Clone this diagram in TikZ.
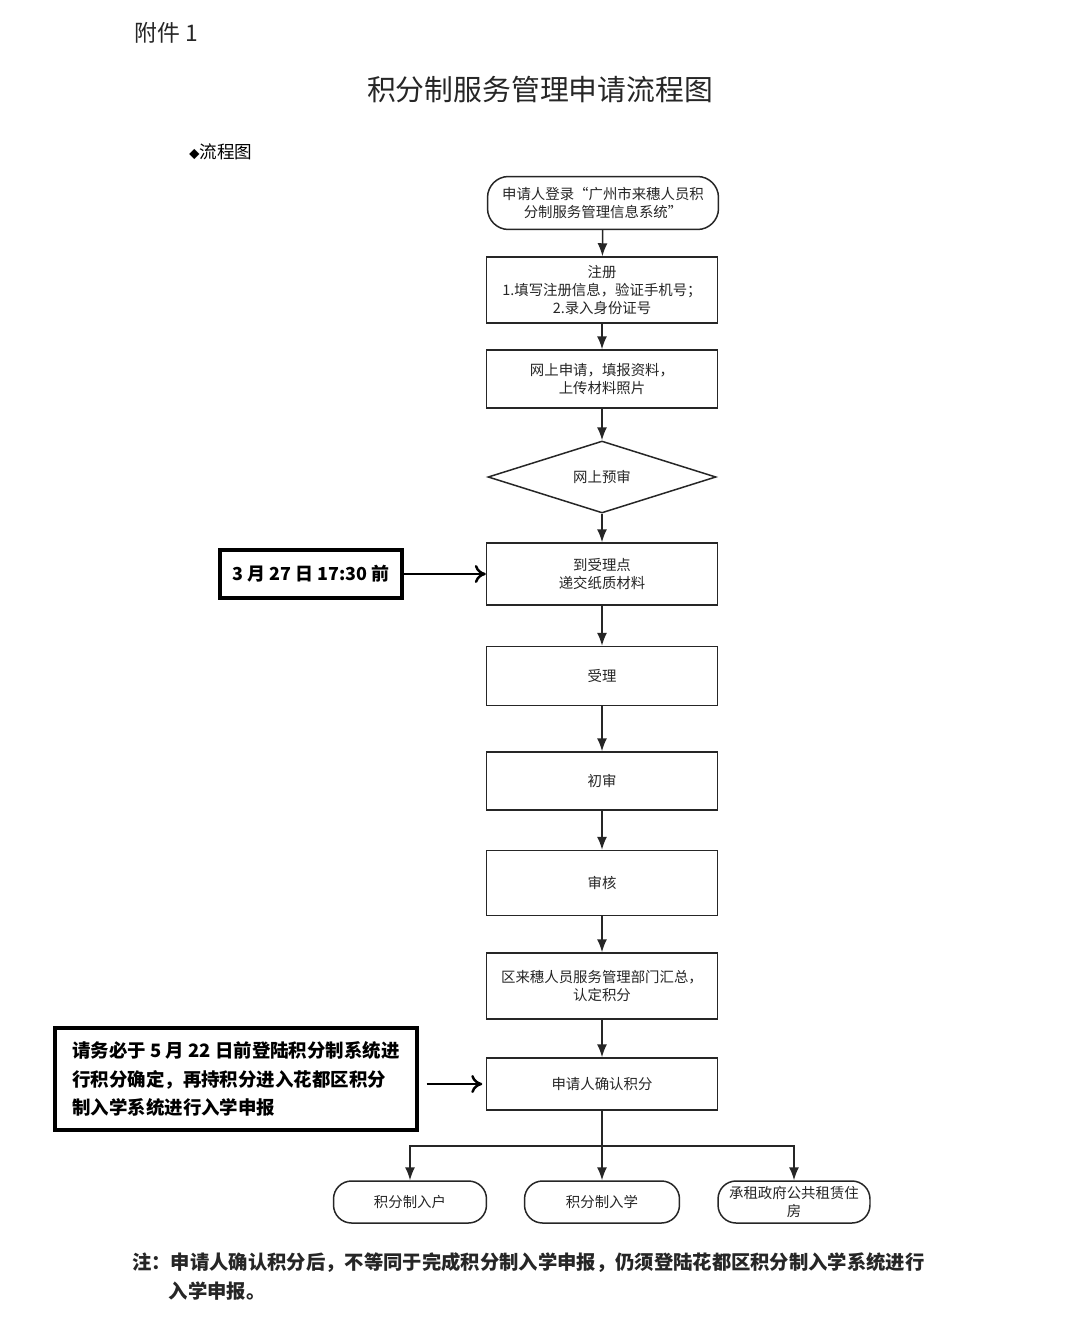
\documentclass[tikz,border=0pt]{standalone}
\usepackage{fontspec}
\setmainfont{Noto Sans CJK SC}
\usepackage{tikz}
\usetikzlibrary{arrows.meta,positioning,calc,shapes.geometric}
\colorlet{InkBlack}{black!85}

\begin{document}
\begin{tikzpicture}[x=0.02cm,y=-0.02cm,
      stepbox/.style={draw=InkBlack,line width=0.85pt,minimum width=4.62cm,
        align=center,inner sep=0.1cm,font=\fontsize{8.2}{10.2}\selectfont,text=InkBlack},
      pill/.style={stepbox,rounded corners=0.42cm},
      check/.style={diamond,draw=InkBlack,line width=0.85pt,minimum width=4.56cm,
        minimum height=1.44cm,aspect=3.17,inner sep=0pt,
        font=\fontsize{8.2}{10.2}\selectfont,text=InkBlack},
      memo/.style={draw=black,line width=2.3pt,align=left,inner sep=0.2cm,
        font=\fontsize{10.5}{16}\selectfont\bfseries},
      flow/.style={-{Latex[length=2.6mm,width=2mm]},InkBlack,line width=0.85pt},
      hint/.style={-{To[length=2.2mm,width=3.6mm]},black,line width=1.4pt}
    ]
    \useasboundingbox (0,0) rectangle (1080,1318);
    \fill[white] (0,0) rectangle (1080,1318);

    % En-tête : annexe, titre et rubrique
    \node[anchor=west,font=\fontsize{13}{15}\selectfont,text=InkBlack] (annex) at (128,33) {附件 1};
    \node[font=\fontsize{16.4}{19}\selectfont,text=InkBlack] (title) at (540,90) {积分制服务管理申请流程图};
    \node[anchor=west,font=\fontsize{10}{12}\selectfont] (rubric) at (183,152) {\fontsize{6}{8}\selectfont◆\fontsize{10}{12}\selectfont 流程图};

    % Chaîne principale des étapes
    \node[pill,minimum height=1.06cm] (login) at (603,203)
      {申请人登录“广州市来穗人员积\\分制服务管理信息系统”};
    \node[stepbox,minimum height=1.32cm] (register) at (602,290)
      {注册\\1.填写注册信息，验证手机号；\\2.录入身份证号};
    \node[stepbox,minimum height=1.16cm] (apply) at (602,379)
      {网上申请，填报资料，\\上传材料照片};
    \node[check] (precheck) at (602,477) {网上预审};
    \node[stepbox,minimum height=1.24cm] (submit) at (602,574)
      {到受理点\\递交纸质材料};
    \node[stepbox,minimum height=1.18cm] (accept) at (602,676) {受理};
    \node[stepbox,minimum height=1.16cm] (first) at (602,781) {初审};
    \node[stepbox,minimum height=1.30cm] (review) at (602,883) {审核};
    \node[stepbox,minimum height=1.32cm] (summary) at (602,986)
      {区来穗人员服务管理部门汇总，\\认定积分};
    \node[stepbox,minimum height=1.04cm] (confirm) at (602,1084) {申请人确认积分};

    % Trois débouchés
    \node[pill,minimum width=3.06cm,minimum height=0.84cm,rounded corners=0.36cm] (hukou) at (410,1202) {积分制入户};
    \node[pill,minimum width=3.1cm,minimum height=0.84cm,rounded corners=0.36cm] (school) at (602,1202) {积分制入学};
    \node[pill,minimum width=3.04cm,minimum height=0.84cm,rounded corners=0.36cm] (housing) at (794,1202)
      {承租政府公共租赁住\\房};
    \coordinate (fork) at (602,1146);

    % Encadrés d'échéance
    \node[memo,minimum width=3.64cm,minimum height=0.96cm,align=center,
      font=\fontsize{10.2}{12}\selectfont\bfseries] (deadA) at (311,574)
      {3 月 27 日 17:30 前};
    \node[memo,minimum width=7.26cm,minimum height=2.04cm] (deadB) at (236,1079)
      {请务必于 5 月 22 日前登陆积分制系统进\\行积分确定，再持积分进入花都区积分\\制入学系统进行入学申报};

    \foreach \a/\b in {login/register,register/apply,apply/precheck,precheck/submit,
      submit/accept,accept/first,first/review,review/summary,summary/confirm}{
      \draw[flow] (\a) -- (\b);
    }
    \draw[InkBlack,line width=0.85pt] (confirm) -- (fork);
    \draw[flow] (fork) -- (school);
    \draw[flow] (fork) -| (hukou.north);
    \draw[flow] (fork) -| (housing.north);
    \draw[hint] (deadA) -- (submit);
    \draw[hint,shorten <=4pt] (deadB.east |- confirm) -- ([xshift=-2pt]confirm.west);

    % Note finale
    \node[anchor=north west,align=left,font=\fontsize{11}{16.6}\selectfont\bfseries,text=InkBlack] (note) at (126,1246)
      {注：申请人确认积分后，不等同于完成积分制入学申报，仍须登陆花都区积分制入学系统进行\\
       \hspace*{1.9em}入学申报。};
  \end{tikzpicture}
\end{document}
